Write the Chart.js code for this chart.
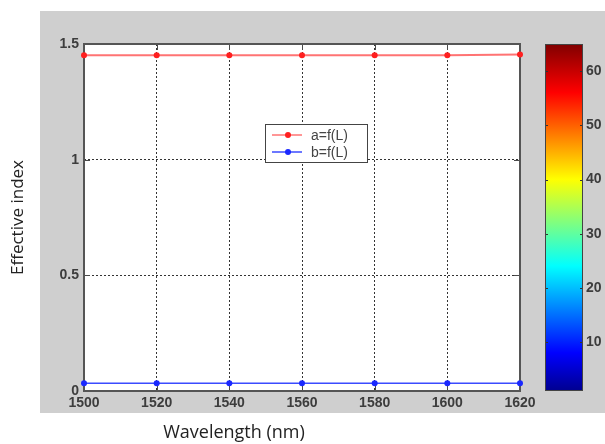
<!DOCTYPE html>
<html>
<head>
<meta charset="utf-8">
<script src="https://cdn.jsdelivr.net/npm/chart.js@4/dist/chart.umd.min.js"></script>
<style>
  html, body { margin: 0; padding: 0; background: #ffffff; }
  #wrap { position: relative; width: 605px; height: 444px; }
  #main { position: absolute; left: 0; top: 0; }
  #cbar { position: absolute; left: 530px; top: 0; }
</style>
</head>
<body>
<div id="wrap">
  <canvas id="main" width="605" height="444"></canvas>
  <canvas id="cbar" width="75" height="444"></canvas>
</div>
<script>
// Wavelength sweep (nm) and effective index of the two modes
const wavelengths = [1500, 1520, 1540, 1560, 1580, 1600, 1620];
const indexA = [1.451, 1.451, 1.451, 1.451, 1.451, 1.451, 1.455];
const indexB = [0.033, 0.033, 0.033, 0.033, 0.033, 0.033, 0.033];
const seriesNames = ['a=f(L)', 'b=f(L)'];
const yTicks = [0, 0.5, 1, 1.5];
const xTicks = [1500, 1520, 1540, 1560, 1580, 1600, 1620];
const xTitle = 'Wavelength (nm)';
const yTitle = 'Effective index';

// Colour bar range and ticks
const cbarRange = [1, 65];
const cbarTicks = [10, 20, 30, 40, 50, 60];

const tickFont = { family: 'Liberation Sans, Arial, sans-serif', size: 14, weight: 'bold' };
const tickColor = '#3d3d3d';
const titleFont = { family: 'Open Sans, sans-serif', size: 17 };

// grey figure background, white axes
const figureBg = {
  id: 'figureBg',
  beforeDraw(chart) {
    const { ctx, chartArea: a } = chart;
    ctx.save();
    ctx.fillStyle = '#cfcfcf';
    ctx.fillRect(40, 11, 565, 402);
    ctx.fillStyle = '#ffffff';
    ctx.fillRect(a.left, a.top, a.right - a.left, a.bottom - a.top);
    ctx.restore();
  }
};

// axes box with inward tick marks
const axesBox = {
  id: 'axesBox',
  beforeDatasetsDraw(chart) {
    const { ctx, chartArea: a, scales } = chart;
    ctx.save();
    ctx.strokeStyle = '#4a4a4a';
    ctx.lineWidth = 1;
    ctx.beginPath();
    xTicks.forEach(v => {
      const x = Math.round(scales.x.getPixelForValue(v)) + 0.5;
      ctx.moveTo(x, a.bottom); ctx.lineTo(x, a.bottom - 6);
      ctx.moveTo(x, a.top); ctx.lineTo(x, a.top + 6);
    });
    yTicks.forEach(v => {
      const y = Math.round(scales.y.getPixelForValue(v)) + 0.5;
      ctx.moveTo(a.left, y); ctx.lineTo(a.left + 6, y);
      ctx.moveTo(a.right, y); ctx.lineTo(a.right - 6, y);
    });
    ctx.stroke();
    ctx.strokeStyle = '#555555';
    ctx.lineWidth = 2;
    ctx.strokeRect(a.left, a.top, a.right - a.left, a.bottom - a.top);
    ctx.restore();
  }
};

// legend box inside the axes and the x-axis caption
const innerLegend = {
  id: 'innerLegend',
  afterDraw(chart) {
    const { ctx, chartArea: a } = chart;
    const bx = a.left + 181, by = a.top + 80, bw = 102, bh = 38;
    ctx.save();
    ctx.fillStyle = '#ffffff';
    ctx.fillRect(bx, by, bw, bh);
    ctx.strokeStyle = '#444444';
    ctx.lineWidth = 1;
    ctx.strokeRect(bx + 0.5, by + 0.5, bw, bh);
    chart.data.datasets.forEach((ds, i) => {
      const y = by + 11 + i * 17;
      ctx.strokeStyle = ds.borderColor;
      ctx.lineWidth = 1.5;
      ctx.beginPath();
      ctx.moveTo(bx + 7, y); ctx.lineTo(bx + 37, y);
      ctx.stroke();
      ctx.fillStyle = ds.pointBackgroundColor;
      ctx.beginPath();
      ctx.arc(bx + 23, y, 3, 0, Math.PI * 2);
      ctx.fill();
      ctx.fillStyle = '#444444';
      ctx.font = '14px "Liberation Sans", Arial, sans-serif';
      ctx.textBaseline = 'middle';
      ctx.textAlign = 'left';
      ctx.fillText(ds.label, bx + 46, y + 1);
    });
    ctx.font = '18px "Open Sans", sans-serif';
    ctx.fillStyle = '#222222';
    ctx.textAlign = 'center';
    ctx.textBaseline = 'middle';
    ctx.fillText(xTitle, 234, 433);
    ctx.restore();
  }
};

new Chart(document.getElementById('main'), {
  type: 'line',
  data: {
    datasets: [
      {
        label: seriesNames[0],
        data: wavelengths.map((w, i) => ({ x: w, y: indexA[i] })),
        borderColor: 'rgba(255,90,90,0.85)',
        borderWidth: 2,
        pointRadius: 3,
        pointBackgroundColor: '#ff1f1f',
        pointBorderWidth: 0,
        clip: false
      },
      {
        label: seriesNames[1],
        data: wavelengths.map((w, i) => ({ x: w, y: indexB[i] })),
        borderColor: '#3b4bff',
        borderWidth: 1.5,
        pointRadius: 3,
        pointBackgroundColor: '#1a28ff',
        pointBorderWidth: 0,
        clip: false
      }
    ]
  },
  options: {
    responsive: false,
    animation: false,
    events: [],
    layout: { padding: { top: 44, right: 85, bottom: 0, left: 0 } },
    plugins: { legend: { display: false }, tooltip: { enabled: false } },
    scales: {
      x: {
        type: 'linear',
        min: xTicks[0],
        max: xTicks[xTicks.length - 1],
        afterBuildTicks: s => { s.ticks = xTicks.map(v => ({ value: v })); },
        afterFit: s => { s.height = 53; },
        ticks: { color: tickColor, font: tickFont, padding: 4, maxRotation: 0, autoSkip: false,
                 callback: v => String(v) },
        grid: { color: '#333333', lineWidth: 1, drawTicks: false },
        border: { display: false, dash: [2, 2] }
      },
      y: {
        min: yTicks[0],
        max: yTicks[yTicks.length - 1],
        afterBuildTicks: s => { s.ticks = yTicks.map(v => ({ value: v })); },
        afterFit: s => { s.width = 84; },
        ticks: { color: tickColor, font: tickFont, padding: 5, callback: v => String(v) },
        grid: { color: '#333333', lineWidth: 1, drawTicks: false },
        border: { display: false, dash: [2, 2] },
        title: { display: true, text: yTitle, color: '#222222', font: titleFont, padding: { top: 8 } }
      }
    }
  },
  plugins: [figureBg, axesBox, innerLegend]
});

// jet colour map stops for the colour bar
function jetGradient(ctx, area) {
  const g = ctx.createLinearGradient(0, area.bottom, 0, area.top);
  g.addColorStop(0.000, 'rgb(0,0,143)');
  g.addColorStop(0.110, 'rgb(0,0,255)');
  g.addColorStop(0.360, 'rgb(0,255,255)');
  g.addColorStop(0.610, 'rgb(255,255,0)');
  g.addColorStop(0.860, 'rgb(255,0,0)');
  g.addColorStop(1.000, 'rgb(128,0,0)');
  return g;
}

const cbarFrame = {
  id: 'cbarFrame',
  afterDatasetsDraw(chart) {
    const { ctx, chartArea: a, scales } = chart;
    ctx.save();
    ctx.strokeStyle = '#333333';
    ctx.lineWidth = 1;
    ctx.beginPath();
    cbarTicks.forEach(v => {
      const y = Math.round(scales.y.getPixelForValue(v)) + 0.5;
      ctx.moveTo(a.left, y); ctx.lineTo(a.left + 3, y);
      ctx.moveTo(a.right, y); ctx.lineTo(a.right - 3, y);
    });
    ctx.stroke();
    ctx.strokeStyle = '#444444';
    ctx.strokeRect(a.left + 0.5, a.top + 0.5, a.right - a.left - 1, a.bottom - a.top - 1);
    ctx.restore();
  }
};

new Chart(document.getElementById('cbar'), {
  type: 'bar',
  data: {
    labels: [''],
    datasets: [{
      data: [cbarRange],
      backgroundColor: c => {
        const area = c.chart.chartArea;
        return area ? jetGradient(c.chart.ctx, area) : '#0000ff';
      },
      borderWidth: 0,
      barPercentage: 1,
      categoryPercentage: 1
    }]
  },
  options: {
    responsive: false,
    animation: false,
    events: [],
    layout: { padding: { top: 44, right: 0, bottom: 53, left: 15 } },
    plugins: { legend: { display: false }, tooltip: { enabled: false } },
    scales: {
      x: { display: false },
      y: {
        position: 'right',
        min: cbarRange[0],
        max: cbarRange[1],
        afterBuildTicks: s => { s.ticks = cbarTicks.map(v => ({ value: v })); },
        afterFit: s => { s.width = 22; },
        ticks: { color: tickColor, font: tickFont, padding: 3, callback: v => String(v) },
        grid: { display: false, drawTicks: false },
        border: { display: false }
      }
    }
  },
  plugins: [cbarFrame]
});
</script>
</body>
</html>
